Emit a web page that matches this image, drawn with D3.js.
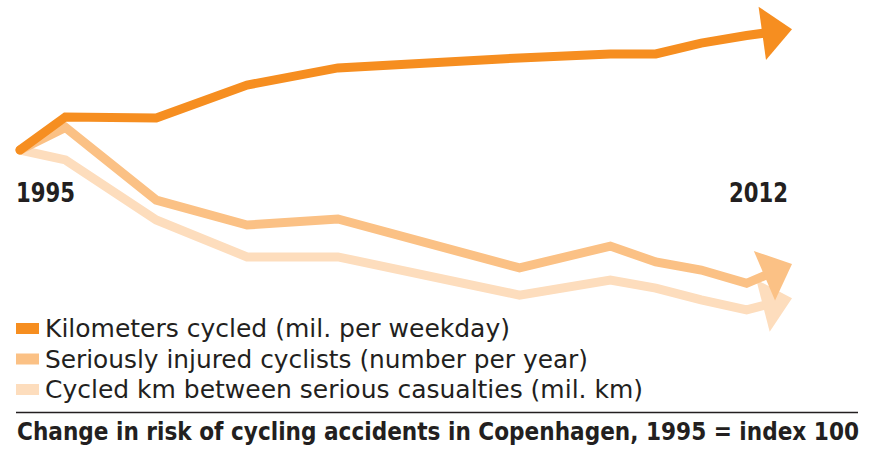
<!DOCTYPE html>
<html>
<head>
<meta charset="utf-8">
<script src="https://cdn.jsdelivr.net/npm/d3@7/dist/d3.min.js"></script>
<style>
  html, body { margin: 0; padding: 0; background: #ffffff; }
  svg { display: block; }
  .cond { font-family: "DejaVu Sans Condensed", "DejaVu Sans", sans-serif; font-stretch: condensed; }
</style>
</head>
<body>
<svg id="chart" width="876" height="450"></svg>
<script>
// ---- data (index, 1995 = 100) ----
const years = [1995, 1996, 1998, 2000, 2002, 2006, 2008, 2009, 2010, 2011, 2012];
const kmCycled      = [100, 118.9, 118.3, 137.1, 146.9, 152.6, 154.9, 154.9, 161.1, 165.4, 169.0];
const injured       = [100, 112.9, 71.4, 57.1, 60.6, 32.6, 45.1, 36.0, 31.4, 23.8, 34.9];
const kmBetween     = [100, 94.3, 60.0, 38.9, 38.9, 17.1, 25.7, 21.1, 14.3, 8.6, 15.3];
const seriesNames = [
  "Kilometers cycled (mil. per weekday)",
  "Seriously injured cyclists (number per year)",
  "Cycled km between serious casualties (mil. km)"
];
const seriesColors = ["#F68E20", "#FBC185", "#FDDDBD"];
const yearLabels = [1995, 2012];
const title = "Change in risk of cycling accidents in Copenhagen, 1995 = index 100";

const svg = d3.select("#chart");
const x = d3.scaleLinear().domain([1995, 2012]).range([20, 792]);
const y = d3.scaleLinear().domain([100, 170]).range([150, 27.5]);

const series = [kmCycled, injured, kmBetween];
const ink = "#231F20";
const arrowLen = 30, arrowHalf = 27;

// draw from back (light) to front (dark)
[2, 1, 0].forEach(i => {
  const vals = series[i];
  const pts = years.map((yr, j) => [x(yr), y(vals[j])]);
  const tip = pts[pts.length - 1];
  const prev = pts[pts.length - 2];
  let dx = tip[0] - prev[0], dy = tip[1] - prev[1];
  const len = Math.hypot(dx, dy); dx /= len; dy /= len;
  const base = [tip[0] - arrowLen * dx, tip[1] - arrowLen * dy];
  const lineEnd = [base[0] + 4 * dx, base[1] + 4 * dy];
  const linePts = pts.slice(0, -1).concat([lineEnd]);
  svg.append("path")
    .attr("d", d3.line()(linePts))
    .attr("fill", "none")
    .attr("stroke", seriesColors[i])
    .attr("stroke-width", 9)
    .attr("stroke-linecap", "round")
    .attr("stroke-linejoin", "miter");
  const px = -dy, py = dx;
  const tri = [
    tip,
    [base[0] + arrowHalf * px, base[1] + arrowHalf * py],
    [base[0] - arrowHalf * px, base[1] - arrowHalf * py]
  ];
  svg.append("path")
    .attr("d", "M" + tri.map(p => p.join(",")).join("L") + "Z")
    .attr("fill", seriesColors[i]);
});

// year labels
svg.selectAll("text.year").data(yearLabels).enter().append("text")
  .attr("class", "year cond")
  .attr("x", d => d === 1995 ? x(d) - 4 : x(d) - 63)
  .attr("y", 202)
  .attr("font-size", 26)
  .attr("font-weight", "bold")
  .attr("fill", ink)
  .attr("textLength", 59)
  .attr("lengthAdjust", "spacingAndGlyphs")
  .text(d => d);

// legend
const legendWidths = [465, 543, 598];
const lg = svg.append("g");
seriesNames.forEach((name, i) => {
  const ty = 337 + i * 30.5;
  lg.append("rect")
    .attr("x", 16).attr("y", ty - 14)
    .attr("width", 23).attr("height", 11)
    .attr("fill", seriesColors[i]);
  lg.append("text")
    .attr("class", "cond")
    .attr("x", 45).attr("y", ty)
    .attr("font-size", 24)
    .attr("fill", ink)
    .attr("textLength", legendWidths[i])
    .attr("lengthAdjust", "spacingAndGlyphs")
    .text(name);
});

// rule
svg.append("line")
  .attr("x1", 16).attr("x2", 858)
  .attr("y1", 412.5).attr("y2", 412.5)
  .attr("stroke", ink).attr("stroke-width", 1.6);

// title
svg.append("text")
  .attr("class", "cond")
  .attr("x", 17).attr("y", 440)
  .attr("font-size", 24.5)
  .attr("font-weight", "bold")
  .attr("fill", ink)
  .attr("textLength", 842)
  .attr("lengthAdjust", "spacingAndGlyphs")
  .text(title);
</script>
</body>
</html>
